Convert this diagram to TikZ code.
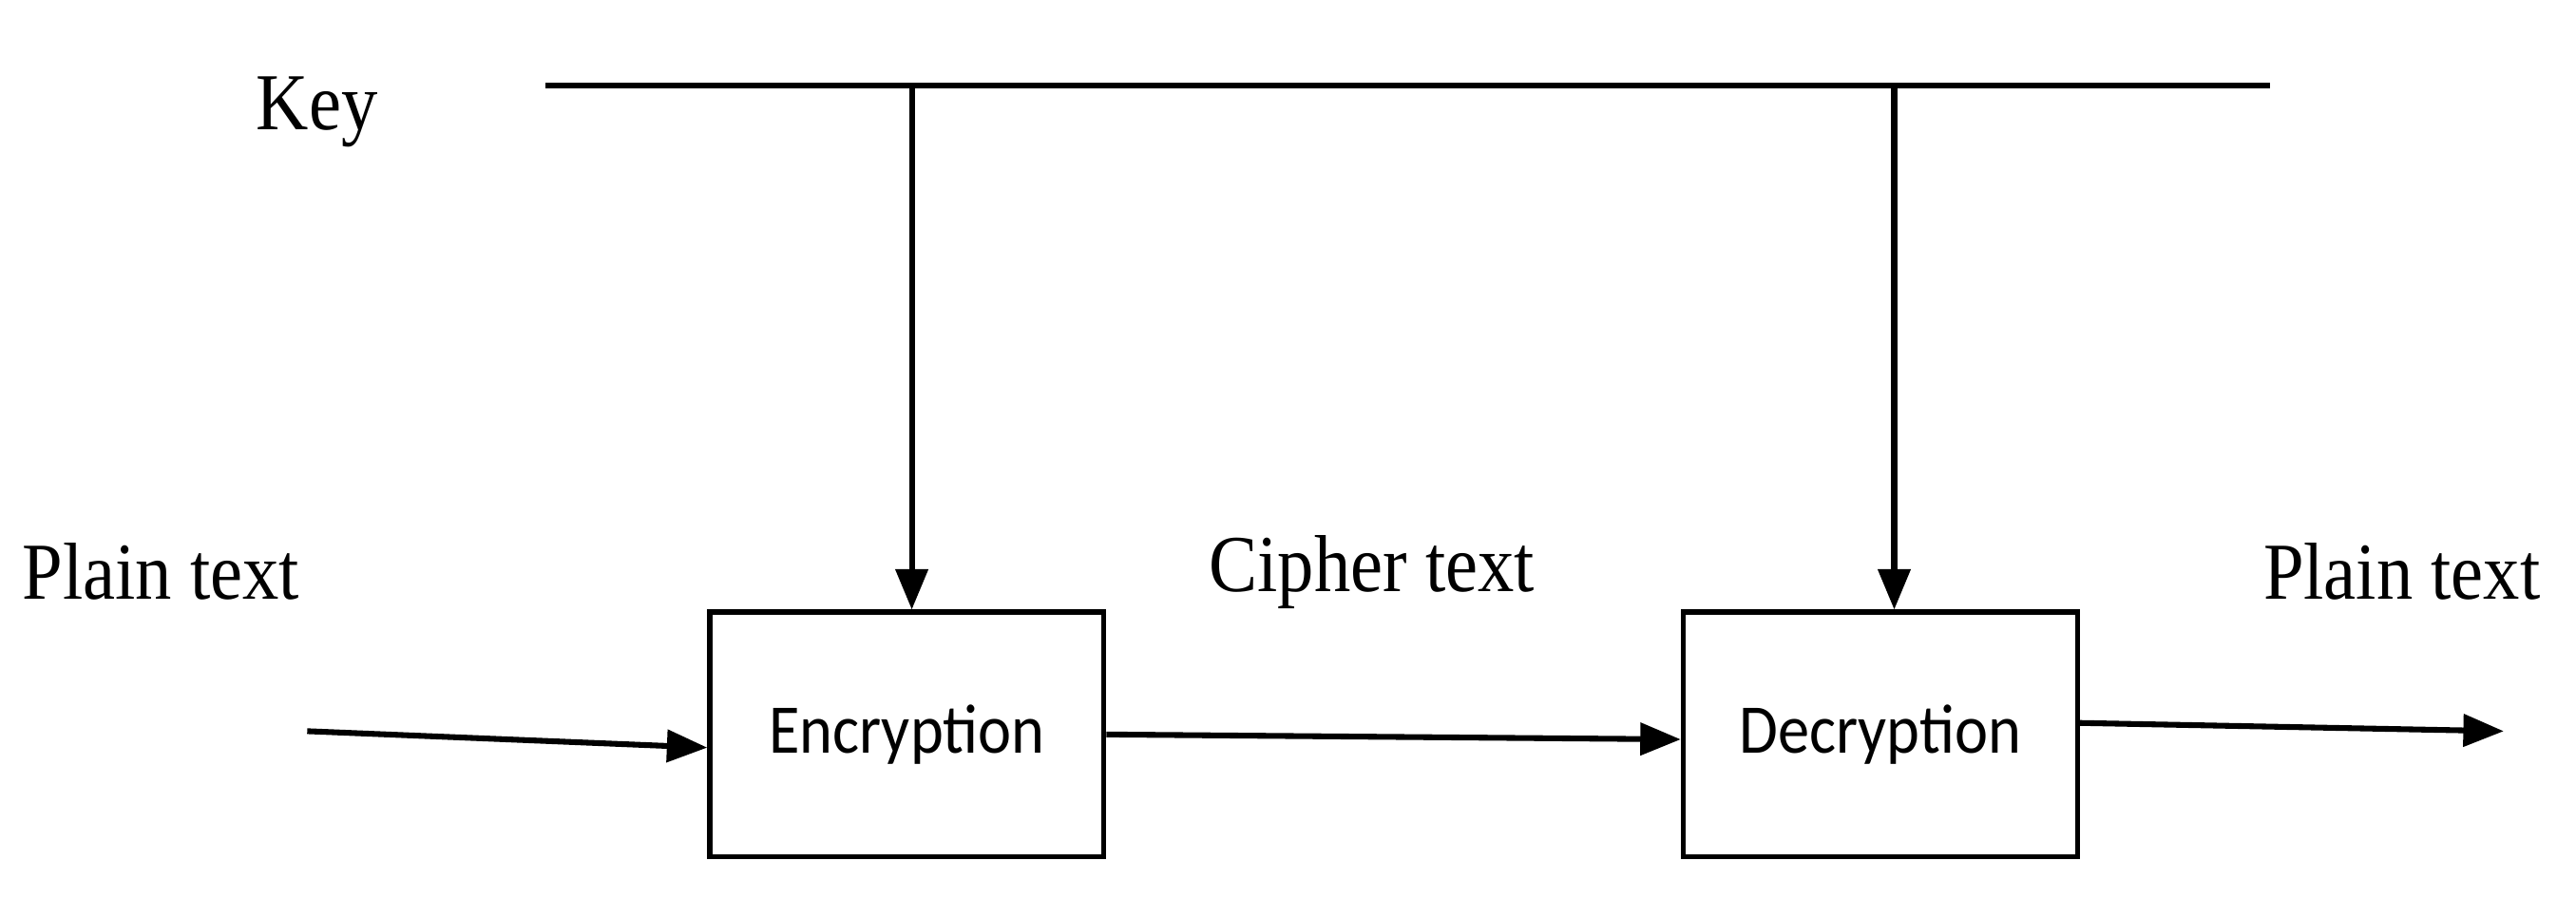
\documentclass[tikz,border=0pt]{standalone}
\usepackage{fontspec}
\setmainfont{Liberation Serif}
\newfontfamily\boxfont{Carlito}
\usetikzlibrary{arrows.meta}
\begin{document}
\begin{tikzpicture}[x=0.02cm,y=-0.02cm,
  ln/.style={line width=2pt},
  arr/.style={ln,-{Triangle[length=14pt,width=11pt]}},
  box/.style={draw,line width=1.7pt,minimum width=4.8cm,minimum height=2.98cm,font=\boxfont\fontsize{23}{26}\selectfont},
  lab/.style={font=\fontsize{28}{32}\selectfont,xscale=0.9}]
\useasboundingbox (0,0) rectangle (1568,547);
\node[box] (enc) at (552,447) {\scalebox{0.95}[1.05]{Encryption}};
\node[box] (dec) at (1144.5,447) {\scalebox{0.95}[1.05]{Decryption}};
\node[lab] (key) at (193,68) {Key};
\node[lab] (p1) at (98,348) {Plain text};
\node[lab] (ct) at (835,348) {Cipher text};
\node[lab] (p2) at (1462,348) {Plain text};
\coordinate (kl) at (332,52);
\coordinate (kr) at (1382,52);
\coordinate (k1) at (555,52);
\coordinate (k2) at (1153,52);
\coordinate (in) at (187,445);
\coordinate (out) at (1524,445);
\draw[ln] (kl) -- (kr);
\draw[arr] (k1) -- (k1 |- enc.north);
\draw[arr] (k2) -- (k2 |- dec.north);
\draw[arr] (in) -- (enc.west |- 0,455);
\draw[arr] (enc.east |- 0,447) -- (dec.west |- 0,450);
\draw[arr] (dec.east |- 0,440) -- (out);
\end{tikzpicture}
\end{document}
